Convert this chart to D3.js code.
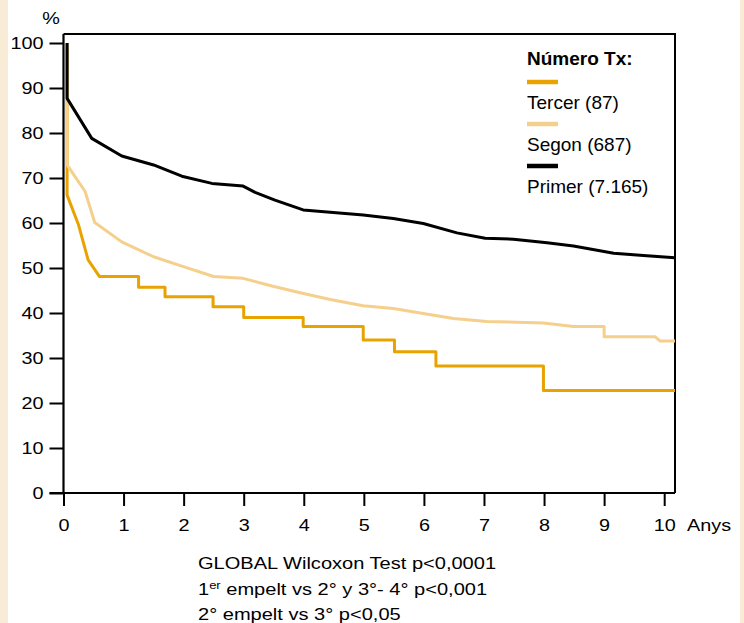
<!DOCTYPE html>
<html>
<head>
<meta charset="utf-8">
<script src="https://cdn.jsdelivr.net/npm/d3@7"></script>
<style>
  html, body { margin: 0; padding: 0; background: #fff; }
  svg { display: block; font-family: "Liberation Sans", Arial, sans-serif; }
</style>
</head>
<body>
<script>
// Supervivència per número de trasplantament (llegit de la figura)
const yTicks = [0, 10, 20, 30, 40, 50, 60, 70, 80, 90, 100];
const xTicks = [0, 1, 2, 3, 4, 5, 6, 7, 8, 9, 10];

const primer = [[0.06, 100], [0.06, 87.7], [0.47, 78.8], [0.97, 74.9], [1.5, 72.9], [1.97, 70.4],
  [2.47, 68.8], [2.99, 68.2], [3.19, 66.8], [3.52, 65.1], [3.99, 62.9], [4.99, 61.8], [5.49, 61.0],
  [5.99, 59.9], [6.55, 57.8], [7.02, 56.6], [7.49, 56.4], [8.05, 55.6], [8.49, 54.9], [9.16, 53.3],
  [9.71, 52.7], [10.18, 52.3]];

const segon = [[0.06, 100], [0.06, 72.9], [0.36, 67], [0.52, 60.1], [0.97, 55.8], [1.5, 52.5],
  [1.97, 50.4], [2.5, 48.1], [2.99, 47.7], [3.47, 46], [3.94, 44.5], [4.44, 43.0], [4.99, 41.6],
  [5.49, 41.0], [5.99, 39.9], [6.49, 38.8], [7.05, 38.1], [7.99, 37.8], [8.49, 37.0], [9.0, 37.0],
  [9.0, 34.7], [9.85, 34.7], [9.93, 33.8], [10.18, 33.8]];

const tercer = [[0.06, 100], [0.06, 66.2], [0.25, 59.6], [0.41, 51.8], [0.6, 48.1], [1.25, 48.1],
  [1.25, 45.7], [1.69, 45.7], [1.69, 43.6], [2.49, 43.6], [2.49, 41.4], [3.0, 41.4], [3.0, 39.0],
  [3.99, 39.0], [3.99, 37.0], [4.99, 37.0], [4.99, 34.0], [5.51, 34.0], [5.51, 31.4], [6.2, 31.4],
  [6.2, 28.2], [7.99, 28.2], [7.99, 22.8], [10.18, 22.8]];

const legendLabels = ["Tercer (87)", "Segon (687)", "Primer (7.165)"];
const colors = ["#e8a300", "#f5cf8c", "#000000"];

const W = 744, H = 623;
const svg = d3.select("body").append("svg")
  .attr("width", W)
  .attr("height", H);

// bandes beix als costats
svg.append("rect").attr("x", 0).attr("y", 0).attr("width", 8).attr("height", H).attr("fill", "#f9ecd7");
svg.append("rect").attr("x", 740).attr("y", 0).attr("width", 4).attr("height", H).attr("fill", "#f9ecd7");

const mLeft = 63.5, mRight = 675, mTop = 34, mBottom = 493;

const x = d3.scaleLinear().domain([0, 10.18]).range([mLeft, mRight]);
const y = d3.scaleLinear().domain([0, 102]).range([mBottom, mTop]);

const sx = 1.24; // el text de l'original és més ample

// marc superior i dret
svg.append("path")
  .attr("d", `M${mLeft},${mTop}H${mRight}V${mBottom}`)
  .attr("fill", "none")
  .attr("stroke", "#000")
  .attr("stroke-width", 2);

// corbes
const line = d3.line().x(d => x(d[0])).y(d => y(d[1]));
[tercer, segon, primer].forEach((serie, i) => {
  svg.append("path")
    .datum(serie)
    .attr("fill", "none")
    .attr("stroke", colors[i])
    .attr("stroke-width", 3)
    .attr("stroke-linejoin", "round")
    .attr("d", line);
});

// eix Y
const gy = svg.append("g")
  .attr("transform", `translate(${mLeft},0)`)
  .call(d3.axisLeft(y).tickValues(yTicks).tickSize(14).tickPadding(6));
gy.select(".domain").attr("d", `M0,${mBottom}V${mTop}`).attr("stroke-width", 2.2);
gy.selectAll(".tick line").attr("stroke-width", 2);
gy.selectAll(".tick text")
  .attr("font-size", 16)
  .attr("font-family", "Liberation Sans, Arial, sans-serif")
  .attr("x", -20 / sx)
  .attr("transform", `scale(${sx},1)`);

// eix X
const gx = svg.append("g")
  .attr("transform", `translate(0,${mBottom})`)
  .call(d3.axisBottom(x).tickValues(xTicks).tickSize(13));
gx.select(".domain").attr("d", `M${mLeft - 14},0H${mRight}`).attr("stroke-width", 2.2);
gx.selectAll(".tick line").attr("stroke-width", 2);
gx.selectAll(".tick text")
  .attr("font-size", 16)
  .attr("font-family", "Liberation Sans, Arial, sans-serif")
  .attr("y", 38)
  .attr("dy", 0)
  .attr("transform", `scale(${sx},1)`);

function stretched(str, px, py, size, scale, anchor) {
  return svg.append("text")
    .attr("transform", `translate(${px},${py}) scale(${scale},1)`)
    .attr("font-size", size)
    .attr("text-anchor", anchor || "start")
    .attr("fill", "#000")
    .text(str);
}

stretched("%", 51, 24, 16, sx, "middle");
stretched("Anys", 687, 531, 16, sx, "start");

// llegenda
const legend = svg.append("g").attr("transform", "translate(527,0)");
legend.append("text")
  .attr("y", 65)
  .attr("font-size", 19)
  .attr("font-weight", "bold")
  .text("Número Tx:");
legendLabels.forEach((lab, i) => {
  const yy = 82 + i * 42;
  legend.append("line")
    .attr("x1", 0).attr("x2", 31)
    .attr("y1", yy).attr("y2", yy)
    .attr("stroke", colors[i])
    .attr("stroke-width", 4.5);
  legend.append("text")
    .attr("y", 108.5 + i * 42.3)
    .attr("font-size", 19)
    .text(lab);
});

// notes estadístiques
const fsx = 1.18;
stretched("GLOBAL Wilcoxon Test p<0,0001", 198, 569, 17, fsx);
const l2 = stretched("1", 198, 595, 17, fsx);
l2.append("tspan").attr("font-size", 11).attr("dy", -6).text("er");
l2.append("tspan").attr("dy", 6).text(" empelt vs 2° y 3°- 4° p<0,001");
stretched("2° empelt vs 3° p<0,05", 198, 620, 17, fsx);
</script>
</body>
</html>
